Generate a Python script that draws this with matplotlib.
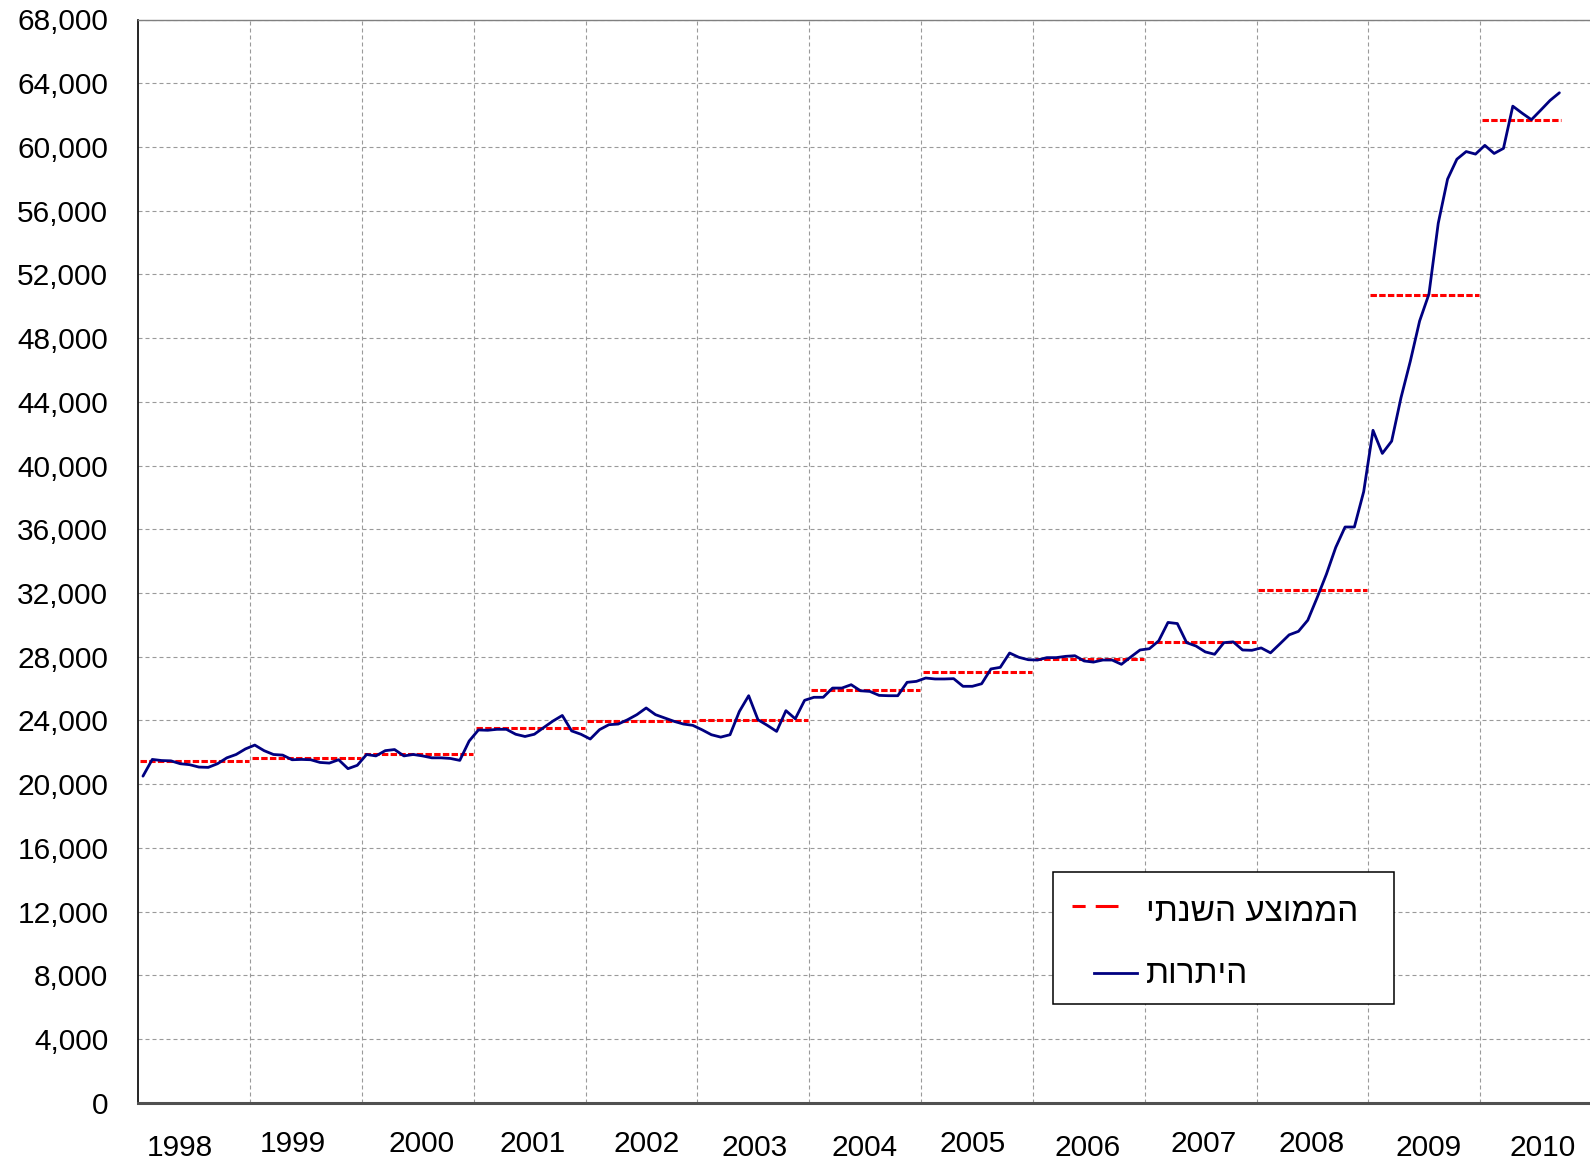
import matplotlib
matplotlib.use('Agg')
import matplotlib.pyplot as plt
from matplotlib.lines import Line2D
from matplotlib.patches import Rectangle
import matplotlib.transforms as mtransforms
from matplotlib.ticker import FuncFormatter
import numpy as np

plt.rcParams['font.family'] = ['Liberation Sans', 'DejaVu Sans']

# ---------------- data ----------------
years = [1998, 1999, 2000, 2001, 2002, 2003, 2004, 2005, 2006, 2007, 2008, 2009, 2010]

# monthly reserve balance, Jan 1998 .. Sep 2010
balance_1998 = [20500, 21550, 21480, 21460, 21280, 21220, 21070, 21050, 21280, 21650, 21860, 22210]
balance_1999 = [22450, 22100, 21860, 21820, 21530, 21550, 21530, 21360, 21320, 21530, 20970, 21180]
balance_2000 = [21860, 21770, 22100, 22170, 21770, 21860, 21770, 21650, 21650, 21610, 21490, 22700]
balance_2001 = [23400, 23380, 23440, 23440, 23130, 22990, 23130, 23550, 23960, 24310, 23340, 23130]
balance_2002 = [22830, 23420, 23730, 23770, 24040, 24360, 24780, 24360, 24150, 23940, 23770, 23690]
balance_2003 = [23410, 23100, 22950, 23100, 24560, 25550, 24040, 23690, 23310, 24610, 24100, 25260]
balance_2004 = [25450, 25450, 26030, 26030, 26240, 25860, 25820, 25570, 25550, 25550, 26390, 26450]
balance_2005 = [26660, 26600, 26600, 26620, 26140, 26140, 26300, 27230, 27330, 28230, 27960, 27810]
balance_2006 = [27790, 27940, 27940, 28020, 28060, 27730, 27660, 27790, 27790, 27520, 27980, 28420]
balance_2007 = [28500, 28990, 30150, 30080, 28880, 28670, 28300, 28150, 28880, 28930, 28420, 28400]
balance_2008 = [28550, 28240, 28800, 29370, 29590, 30290, 31700, 33180, 34860, 36140, 36140, 38360]
balance_2009 = [42210, 40760, 41530, 44250, 46540, 49070, 50760, 55210, 57980, 59230, 59710, 59550]
balance_2010 = [60100, 59590, 59910, 62560, 62120, 61710, 62310, 62920, 63400]

annual_average = [21420, 21650, 21920, 23500, 23940, 24020, 25880, 27020, 27860, 28930, 32200, 50680, 61710]

series_label = 'היתרות'
average_label = 'הממוצע השנתי'
y_ticks = list(range(0, 68001, 4000))

monthly_balance = (balance_1998 + balance_1999 + balance_2000 + balance_2001 + balance_2002 +
                   balance_2003 + balance_2004 + balance_2005 + balance_2006 + balance_2007 +
                   balance_2008 + balance_2009 + balance_2010)

# ---------------- layout helpers (pixels, top-left origin) ----------------
W, H = 1590, 1161
fig = plt.figure(figsize=(W / 100, H / 100), dpi=100)


def fx(px):
    return px / W


def fy(py):
    return 1 - py / H


AX_L, AX_R, AX_T, AX_B = 138.3, 1592.0, 19.5, 1102.7
ax = fig.add_axes([fx(AX_L), fy(AX_B), (AX_R - AX_L) / W, (AX_B - AX_T) / H])

n_months = len(monthly_balance)
x = np.arange(n_months) + 0.5
ax.plot(x, monthly_balance, color='#000080', lw=2.0, zorder=4,
        solid_joinstyle='round', solid_capstyle='round')

for k, avg in enumerate(annual_average):
    x0 = 12 * k
    months = min(12, n_months - 12 * k)
    x1 = x0 + months if months == 12 else x0 + months - 0.2
    ax.plot([x0 + 0.2, x1 - 0.1], [avg, avg], color='#ff0000', lw=2.2,
            ls=(0, (2.1, 0.75)), zorder=3)

ax.set_xlim(0, 12 * len(years))
ax.set_ylim(0, 68000)

# grid at year boundaries and every 4,000
ax.set_xticks([12 * k for k in range(1, len(years))])
ax.set_xticklabels([])
ax.set_yticks(y_ticks)
ax.yaxis.set_major_formatter(FuncFormatter(lambda v, p: f'{v:,.0f}'))
ax.tick_params(axis='x', length=0)
ax.tick_params(axis='y', length=0, pad=21.6, labelsize=21.5, labelcolor='black')
ax.set_axisbelow(True)
ax.grid(True, color='#9a9a9a', lw=0.8, ls=(0, (3.6, 2.7)))

for s in ax.spines.values():
    s.set_zorder(5)
ax.spines['right'].set_visible(False)
ax.spines['top'].set_color('#808080')
ax.spines['top'].set_linewidth(1.0)
ax.spines['left'].set_color('black')
ax.spines['left'].set_linewidth(1.2)
ax.spines['bottom'].set_color('#505050')
ax.spines['bottom'].set_linewidth(2.2)

# year labels (centered in each year, staggered as in the original)
label_dx = [-14, -13, 4, 2.5, 5.5, 1, -1, -4.5, -1.5, 3.5, -0.5, 4.5, 7]
label_low = [1, 0, 0, 0, 0, 1, 1, 0, 1, 0, 0, 1, 1]
base = mtransforms.blended_transform_factory(ax.transData, ax.transAxes)
for k, yr in enumerate(years):
    dy = 52.8 if label_low[k] else 49.8
    tr = base + mtransforms.ScaledTranslation(label_dx[k] / 100, -dy / 100, fig.dpi_scale_trans)
    ax.text(12 * k + 6, 0, str(yr), transform=tr, ha='center', va='baseline',
            fontsize=21.5, color='black', clip_on=False)

# legend (drawn manually to match the original layout)
LG_L, LG_R, LG_T, LG_B = 1053.3, 1394.0, 871.7, 1004.0
fig.add_artist(Rectangle((fx(LG_L), fy(LG_B)), (LG_R - LG_L) / W, (LG_B - LG_T) / H,
                         transform=fig.transFigure, facecolor='white', edgecolor='black',
                         lw=1.1, zorder=10))
fig.add_artist(Line2D([fx(1071.7), fx(1118.3)], [fy(906), fy(906)], transform=fig.transFigure,
                      color='#ff0000', lw=2.2, ls=(0, (4.3, 3.3, 7.9, 50)), zorder=11))
fig.add_artist(Line2D([fx(1094), fx(1136.7)], [fy(972.7), fy(972.7)], transform=fig.transFigure,
                      color='#000080', lw=2.0, zorder=11))
fig.text(fx(1146), fy(920.7), average_label[::-1], ha='left', va='baseline',
         fontsize=24, color='black', zorder=12)
fig.text(fx(1146), fy(983.3), series_label[::-1], ha='left', va='baseline',
         fontsize=24, color='black', zorder=12)

fig.savefig('out.png', dpi=100, facecolor='white')
